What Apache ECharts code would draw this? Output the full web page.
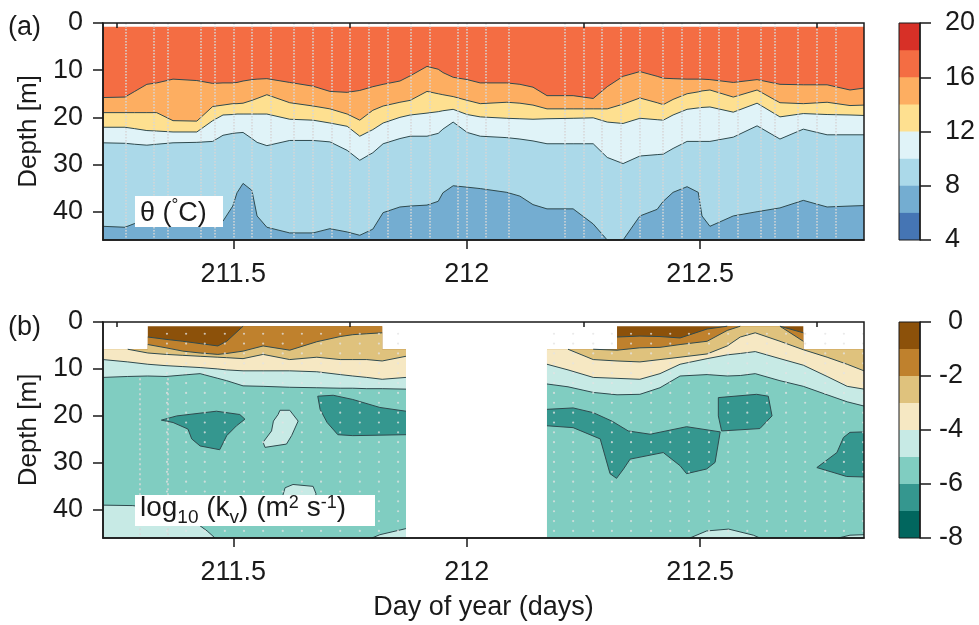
<!DOCTYPE html>
<html>
<head>
<meta charset="utf-8">
<script src="https://cdn.jsdelivr.net/npm/echarts@6/dist/echarts.min.js"></script>
<style>
html, body { margin: 0; padding: 0; background: #fff; }
#chart { width: 979px; height: 625px; }
</style>
</head>
<body>
<div id="chart"></div>
<script>
// ---- shared axis values
const dayMin = 211.221;
const dayMax = 212.851;
const dayLabels = [211.5, 212, 212.5];
const dayMinorTicks = [211.25, 211.75, 212.25, 212.75];
const depthTicks = [0, 10, 20, 30, 40];

// ---- panel (a): potential temperature, depth of each isotherm
const thetaTime = [211.221, 211.268, 211.289, 211.315, 211.336, 211.371, 211.422, 211.456, 211.478, 211.499,
    211.508, 211.521, 211.540, 211.551, 211.572, 211.621, 211.671, 211.707, 211.744, 211.771,
    211.799, 211.821, 211.857, 211.879, 211.915, 211.939, 211.949, 211.971, 212.001, 212.029,
    212.086, 212.114, 212.142, 212.172, 212.228, 212.271, 212.301, 212.335, 212.371, 212.408,
    212.421, 212.442, 212.472, 212.496, 212.504, 212.521, 212.571, 212.622, 212.671, 212.721,
    212.772, 212.821, 212.851];
const iso16 = [15.8, 15.7, 14.5, 13.0, 12.7, 11.9, 12.2, 12.8, 12.7, 12.7,
    12.6, 12.3, 12.0, 11.9, 11.8, 12.6, 13.4, 14.5, 14.7, 14.3,
    13.5, 13.0, 12.3, 11.2, 9.2, 9.8, 10.5, 11.5, 12.0, 12.7,
    12.7, 13.0, 13.6, 15.4, 15.4, 16.0, 13.5, 11.3, 10.3, 11.3,
    11.7, 11.8, 11.9, 11.9, 11.9, 12.0, 12.6, 12.0, 13.0, 13.1,
    13.1, 14.2, 13.8];
const iso14 = [19.0, 19.0, 19.0, 19.0, 19.0, 20.7, 20.8, 17.7, 17.4, 17.1,
    17.1, 17.0, 16.4, 16.0, 15.2, 16.9, 17.6, 18.2, 19.3, 20.6,
    18.5, 17.6, 16.8, 16.4, 14.5, 15.0, 15.2, 15.6, 16.4, 17.1,
    16.8, 17.0, 17.4, 18.2, 18.2, 18.2, 18.2, 17.2, 15.9, 16.9,
    17.3, 16.2, 15.0, 14.6, 14.4, 14.2, 15.7, 14.2, 16.9, 17.1,
    16.8, 17.5, 17.4];
const iso12 = [22.1, 22.1, 22.4, 22.8, 22.9, 23.1, 23.1, 20.7, 19.5, 19.4,
    19.3, 19.3, 19.3, 19.3, 19.3, 20.4, 20.6, 21.2, 21.9, 24.0,
    22.6, 21.2, 20.0, 19.5, 19.1, 18.8, 18.6, 18.3, 19.4, 19.9,
    20.2, 20.3, 20.4, 20.3, 20.2, 20.1, 21.0, 21.3, 20.2, 20.5,
    20.6, 19.5, 18.3, 18.0, 17.9, 17.8, 18.9, 17.0, 19.9, 19.2,
    19.4, 19.5, 19.6];
const iso10 = [25.4, 25.5, 25.7, 25.9, 25.7, 25.4, 25.3, 25.1, 23.8, 23.4,
    23.3, 23.2, 24.5, 25.3, 26.0, 24.9, 24.9, 25.2, 27.0, 29.1,
    27.5, 25.6, 24.5, 24.0, 24.0, 23.4, 22.5, 21.0, 23.2, 24.0,
    24.3, 24.6, 25.0, 25.6, 25.6, 25.6, 28.5, 29.8, 28.2, 27.9,
    27.8, 26.6, 25.1, 25.1, 25.1, 25.1, 24.2, 21.8, 24.6, 22.5,
    23.7, 23.7, 23.7];
const iso8 = [43.1, 43.3, 42.5, 42.3, 42.3, 42.3, 42.2, 42.1, 42.0, 38.8,
    36.0, 34.0, 35.5, 40.9, 43.3, 44.5, 44.5, 43.6, 44.3, 45.0,
    43.7, 40.2, 39.0, 38.8, 38.6, 37.8, 36.0, 34.5, 34.8, 35.1,
    35.9, 36.7, 38.5, 39.4, 39.4, 42.6, 46.0, 46.0, 40.9, 39.5,
    37.8, 35.9, 34.7, 35.9, 40.9, 43.1, 40.9, 40.0, 39.2, 37.6,
    39.0, 38.8, 38.7];
const thetaTop = 0.8;
const thetaLevels = [4, 6, 8, 10, 12, 14, 16, 18, 20];
const thetaColors = ['#4575b4', '#74add1', '#abd9e9', '#e0f3f8', '#fee090', '#fdae61', '#f46d43', '#d73027'];
const profileTimes = [211.268, 211.334, 211.356, 211.426, 211.459, 211.500, 211.543, 211.584, 211.626, 211.671,
    211.712, 211.752, 211.791, 211.834, 211.876, 211.916, 211.977, 212.000, 212.044, 212.086,
    212.207, 212.250, 212.294, 212.332, 212.373, 212.420, 212.459, 212.500, 212.541, 212.582,
    212.625, 212.664, 212.707, 212.751, 212.789];

// ---- panel (b): log10 diffusivity, depth of each contour (null = no data)
const kvTime = [211.221, 211.274, 211.317, 211.317, 211.356, 211.392, 211.429, 211.467, 211.486, 211.521,
    211.564, 211.621, 211.679, 211.729, 211.756, 211.786, 211.819, 211.819, 211.870, 212.0,
    212.172, 212.217, 212.271, 212.322, 212.322, 212.371, 212.414, 212.457, 212.515, 212.558,
    212.586, 212.618, 212.671, 212.721, 212.721, 212.772, 212.815, 212.851];
const kvTop = [5.8, 5.8, 5.8, 0.9, 0.9, 0.9, 0.9, 0.9, 0.9, 0.9,
    0.9, 0.9, 0.9, 0.9, 0.9, 0.9, 0.9, 5.8, 5.8, null,
    5.8, 5.8, 5.8, 5.8, 0.9, 0.9, 0.9, 0.9, 0.9, 0.9,
    0.9, 0.9, 0.9, 0.9, 5.8, 5.8, 5.8, 5.8];
const kv1 = [5.8, 5.8, 5.8, 3.2, 3.7, 4.1, 4.6, 5.1, 4.1, 0.9,
    0.9, 0.9, 0.9, 0.9, 0.9, 0.9, 0.9, 5.8, 5.8, null,
    5.8, 5.8, 5.8, 5.8, 3.2, 3.0, 3.1, 3.4, 1.5, 0.9,
    0.9, 0.9, 0.9, 2.3, 5.8, 5.8, 5.8, 5.8];
const kv2 = [5.8, 5.8, 5.8, 4.8, 5.5, 6.2, 6.6, 6.9, 6.7, 6.2,
    5.1, 6.0, 4.2, 3.1, 2.7, 2.5, 2.3, 5.8, 5.8, null,
    5.8, 5.8, 5.8, 6.0, 6.0, 5.5, 5.4, 4.8, 4.1, 1.8,
    0.9, 0.9, 0.9, 4.1, 5.8, 5.8, 5.8, 5.8];
const kv3 = [5.8, 5.8, 6.6, 6.6, 6.9, 7.1, 7.3, 7.5, 7.6, 7.8,
    6.9, 8.0, 7.5, 8.0, 8.0, 8.0, 8.3, 8.3, 7.3, null,
    5.8, 5.8, 8.0, 8.3, 8.3, 8.5, 8.0, 7.5, 6.8, 5.1,
    3.2, 2.3, 4.1, 5.9, 5.9, 7.5, 9.0, 10.4];
const kv4 = [8.0, 8.5, 9.0, 9.0, 9.3, 9.5, 9.7, 10.0, 10.2, 10.4,
    10.4, 10.4, 10.6, 11.2, 11.5, 11.8, 12.2, 12.2, 11.8, null,
    9.0, 10.2, 11.8, 12.0, 12.0, 12.2, 11.0, 9.0, 7.8, 7.0,
    6.7, 6.3, 7.8, 9.2, 9.2, 11.6, 13.7, 14.3];
const kv5 = [11.8, 11.6, 11.5, 11.5, 11.6, 11.3, 11.0, 12.0, 12.5, 13.6,
    13.7, 13.9, 14.0, 14.1, 14.1, 14.2, 14.2, 14.2, 14.3, null,
    13.2, 13.8, 15.0, 15.5, 15.5, 15.4, 14.0, 11.5, 11.2, 11.5,
    11.4, 11.0, 12.5, 13.7, 13.7, 15.5, 17.0, 17.9];
const kvEdges = [211.221, 211.870, 212.172, 212.851];
// closed patches below -6 (darker) and above -5 (lighter) inside the -5..-6 band
const kvLow = [
    [[211.346, 20.9], [211.379, 20.0], [211.464, 19.0], [211.514, 19.7], [211.525, 20.7], [211.507, 22.1],
     [211.486, 24.2], [211.471, 27.2], [211.429, 26.4], [211.411, 24.9], [211.403, 22.8], [211.371, 21.4]],
    [[211.681, 15.8], [211.714, 15.6], [211.756, 16.5], [211.814, 18.2], [211.870, 19.0], [211.870, 24.0],
     [211.756, 24.2], [211.724, 24.0], [211.701, 21.4], [211.686, 18.6]],
    [[212.172, 18.6], [212.228, 18.3], [212.271, 19.3], [212.311, 21.1], [212.346, 23.2], [212.393, 23.9],
     [212.471, 22.3], [212.543, 23.4], [212.532, 29.9], [212.514, 31.3], [212.471, 32.3], [212.457, 30.6],
     [212.421, 27.8], [212.350, 29.2], [212.336, 31.3], [212.321, 33.3], [212.307, 32.3], [212.286, 24.9],
     [212.228, 22.5], [212.172, 22.1]],
    [[212.539, 16.1], [212.621, 15.4], [212.646, 15.8], [212.654, 20.0], [212.628, 22.7], [212.546, 23.2],
     [212.539, 20.0]],
    [[212.851, 23.4], [212.821, 23.5], [212.807, 24.6], [212.793, 27.8], [212.750, 31.0], [212.814, 32.9],
     [212.851, 33.0]]
];
const kvHigh = [
    [[211.600, 18.8], [211.621, 18.8], [211.639, 21.1], [211.625, 24.2], [211.614, 26.0], [211.568, 26.7],
     [211.564, 25.6], [211.582, 23.2], [211.586, 21.1], [211.596, 19.7]],
    [[211.606, 37.0], [211.611, 35.3], [211.628, 34.6], [211.671, 35.0], [211.677, 36.5], [211.677, 37.0]],
    [[211.221, 39.0], [211.285, 39.1], [211.343, 40.0], [211.396, 41.5], [211.422, 42.9], [211.444, 44.5],
     [211.461, 46], [211.221, 46]],
    [[211.797, 46], [211.814, 45.3], [211.870, 44.0], [211.870, 46]],
    [[212.478, 46], [212.514, 44.5], [212.561, 44.1], [212.614, 45.4], [212.628, 46]],
    [[212.796, 46], [212.821, 45.4], [212.851, 45.3], [212.851, 46]]
];
const kvLevels = [-8, -7, -6, -5, -4, -3, -2, -1, 0];
const kvColors = ['#01665e', '#35978f', '#80cdc1', '#c7eae5', '#f6e8c3', '#dfc27d', '#bf812d', '#8c510a'];
// sample grid of the diffusivity estimate
const kvDotTimes = [211.358, 211.399, 211.439, 211.482, 211.523, 211.564, 211.606, 211.647, 211.688, 211.729,
    211.771, 211.812, 211.853,
    212.187, 212.228, 212.271, 212.311, 212.352, 212.395, 212.436, 212.476, 212.519, 212.560,
    212.601, 212.643, 212.684, 212.725, 212.768, 212.808, 212.849];
const kvDotDepths = [2.5, 4.6, 6.7, 8.8, 10.9, 13.0, 15.1, 17.2, 19.3, 21.4, 23.5, 25.6, 27.7, 29.8, 31.9,
    34.0, 36.1, 38.2, 40.3, 42.4, 44.5];
const kvTraceTimes = [211.300, 211.360];

const FONT = '"Liberation Sans", Arial, Helvetica, sans-serif';
const INK = '#1a1a1a';
const CONTOUR = '#2f4a4e';
const FS = 27;

function bandColor(levels, colors, lower) {
    return colors[levels.indexOf(lower)];
}

function areaSeries(xi, yi, time, vals, color, stroke) {
    return {
        type: 'line', xAxisIndex: xi, yAxisIndex: yi, z: 1,
        data: time.map((t, i) => [t, vals[i]]),
        symbol: 'none', silent: true, connectNulls: false,
        lineStyle: stroke ? { color: CONTOUR, width: 1 } : { width: 0 },
        areaStyle: { color: color, opacity: 1, origin: 'end' }
    };
}

// contour line only where it lies below the top of the data
function strokeSeries(xi, yi, time, vals, top) {
    const below = j => j >= 0 && j < vals.length && vals[j] != null && vals[j] > top[j] + 0.01;
    const data = vals.map((d, i) => {
        if (d == null) return [time[i], null];
        const near = [i - 1, i + 1].some(j => below(j) && time[j] !== time[i]);
        return (below(i) || near) ? [time[i], d] : [time[i], null];
    });
    return {
        type: 'line', xAxisIndex: xi, yAxisIndex: yi, z: 3,
        data: data, symbol: 'none', silent: true, connectNulls: false,
        lineStyle: { color: CONTOUR, width: 1 }
    };
}

function patchSeries(patches, color) {
    return {
        type: 'custom', xAxisIndex: 2, yAxisIndex: 1, z: 2, silent: true,
        data: patches.map(p => p[0]),
        renderItem: function (params, api) {
            const raw = patches[params.dataIndex];
            const pts = raw.map(p => api.coord(p));
            const children = [{ type: 'polygon', shape: { points: pts }, style: { fill: color } }];
            let run = [];
            const flush = () => {
                if (run.length > 1) {
                    children.push({ type: 'polyline', shape: { points: run },
                        style: { stroke: CONTOUR, lineWidth: 1, fill: null } });
                }
                run = [];
            };
            for (let k = 0; k < raw.length; k++) {
                const a = raw[k], b = raw[(k + 1) % raw.length];
                const edge = (a[0] === b[0] && kvEdges.includes(a[0])) || (a[1] >= 46 && b[1] >= 46);
                if (edge) { flush(); continue; }
                if (!run.length) run.push(pts[k]);
                run.push(pts[(k + 1) % raw.length]);
            }
            flush();
            return { type: 'group', children: children };
        }
    };
}

function dayAxes(grid, name) {
    return [{
        type: 'value', gridIndex: grid, min: dayMin, max: dayMax, position: 'bottom', z: 10,
        axisLine: { onZero: false, lineStyle: { color: INK, width: 1.5 } },
        axisTick: { customValues: dayLabels, length: 9, lineStyle: { color: INK, width: 1.5 } },
        axisLabel: { customValues: dayLabels, fontSize: FS, fontFamily: FONT, color: INK, margin: 21 },
        splitLine: { show: false },
        name: name, nameLocation: 'middle', nameGap: 56,
        nameTextStyle: { fontSize: FS, fontFamily: FONT, color: INK }
    }, {
        type: 'value', gridIndex: grid, min: dayMin, max: dayMax, position: 'bottom', z: 10,
        axisLine: { show: false },
        axisTick: { customValues: dayMinorTicks, length: 5, lineStyle: { color: INK, width: 1.5 } },
        axisLabel: { show: false },
        splitLine: { show: false }
    }];
}

function depthAxis(grid) {
    return {
        type: 'value', gridIndex: grid, inverse: true, min: 0, max: 46, z: 10,
        axisLine: { onZero: false, lineStyle: { color: INK, width: 1.5 } },
        axisTick: { customValues: depthTicks, length: 10, lineStyle: { color: INK, width: 1.5 } },
        axisLabel: { customValues: depthTicks, fontSize: FS, fontFamily: FONT, color: INK, margin: 20 },
        splitLine: { show: false },
        name: 'Depth [m]', nameLocation: 'middle', nameGap: 60, nameRotate: 90,
        nameTextStyle: { fontSize: 26, fontFamily: FONT, color: INK }
    };
}

function colorbarAxis(grid, levels, align, margin) {
    return {
        type: 'value', gridIndex: grid, min: levels[0], max: levels[levels.length - 1],
        interval: 2 * (levels[1] - levels[0]), position: 'right', z: 10,
        axisLine: { show: true, onZero: false, lineStyle: { color: INK, width: 1.5 } },
        axisTick: { show: true, length: 11, lineStyle: { color: INK, width: 1.5 } },
        axisLabel: { fontSize: FS, fontFamily: FONT, color: INK, margin: margin, align: align },
        splitLine: { show: false }
    };
}

const series = [];

// (a) filled isotherm bands
const thetaIsolines = [[16, iso16], [14, iso14], [12, iso12], [10, iso10], [8, iso8]];
series.push(areaSeries(0, 0, thetaTime, thetaTime.map(() => thetaTop),
    bandColor(thetaLevels, thetaColors, 16), false));
thetaIsolines.forEach(([lev, vals]) => {
    series.push(areaSeries(0, 0, thetaTime, vals, bandColor(thetaLevels, thetaColors, lev - 2), true));
});
series[series.length - 1].markLine = {
    silent: true, symbol: ['none', 'none'], label: { show: false },
    lineStyle: { type: 'dotted', color: '#d6d6d6', width: 1.5 },
    data: profileTimes.map(t => ({ xAxis: t }))
};

// (b) filled diffusivity bands
const kvIsolines = [[-1, kv1], [-2, kv2], [-3, kv3], [-4, kv4], [-5, kv5]];
series.push(areaSeries(2, 1, kvTime, kvTop, bandColor(kvLevels, kvColors, -1), false));
kvIsolines.forEach(([lev, vals]) => {
    series.push(areaSeries(2, 1, kvTime, vals, bandColor(kvLevels, kvColors, lev - 1), false));
});
series.push(patchSeries(kvLow, bandColor(kvLevels, kvColors, -7)));
series.push(patchSeries(kvHigh, bandColor(kvLevels, kvColors, -5)));
kvIsolines.forEach(([lev, vals]) => {
    series.push(strokeSeries(2, 1, kvTime, vals, kvTop));
});
// sample points
const kvDots = [];
kvDotTimes.forEach(t => kvDotDepths.forEach(d => kvDots.push([t, d])));
series.push({
    type: 'scatter', xAxisIndex: 2, yAxisIndex: 1, z: 4, silent: true,
    symbol: 'circle', symbolSize: 2.2, data: kvDots,
    itemStyle: { color: 'rgba(228,228,228,0.95)' },
    markLine: {
        silent: true, symbol: ['none', 'none'], label: { show: false },
        lineStyle: { type: [2, 3], color: '#d8d8d8', width: 1.5 },
        data: kvTraceTimes.map(t => [{ coord: [t, 12] }, { coord: [t, 46] }])
    }
});

// colour bars
for (let i = thetaColors.length - 1; i >= 0; i--) {
    series.push({ type: 'bar', xAxisIndex: 4, yAxisIndex: 2, silent: true, barWidth: '100%', barGap: '-100%',
        data: [thetaLevels[i + 1]], itemStyle: { color: thetaColors[i] } });
}
for (let i = 0; i < kvColors.length; i++) {
    series.push({ type: 'bar', xAxisIndex: 5, yAxisIndex: 3, silent: true, barWidth: '100%', barGap: '-100%',
        data: [kvLevels[i]], itemStyle: { color: kvColors[i] } });
}

const gridFrame = { show: true, borderColor: INK, borderWidth: 1.5, z: 10 };

const chart = echarts.init(document.getElementById('chart'), null, { renderer: 'canvas' });
chart.setOption({
    animation: false,
    backgroundColor: '#fff',
    grid: [
        Object.assign({ left: 103, top: 23, width: 761, height: 217 }, gridFrame),
        Object.assign({ left: 103, top: 322, width: 761, height: 216 }, gridFrame),
        Object.assign({ left: 899, top: 23, width: 21, height: 217 }, gridFrame, { borderWidth: 1 }),
        Object.assign({ left: 899, top: 322, width: 21, height: 216 }, gridFrame, { borderWidth: 1 })
    ],
    xAxis: [
        ...dayAxes(0, ''),
        ...dayAxes(1, 'Day of year (days)'),
        { type: 'category', gridIndex: 2, data: ['θ'], show: false },
        { type: 'category', gridIndex: 3, data: ['kv'], show: false }
    ],
    yAxis: [
        depthAxis(0),
        depthAxis(1),
        colorbarAxis(2, thetaLevels, 'left', 25),
        colorbarAxis(3, kvLevels, 'right', 43)
    ],
    graphic: [
        { type: 'text', left: 8, top: 14, z: 100,
          style: { text: '(a)', fontSize: FS, fontFamily: FONT, fill: INK } },
        { type: 'text', left: 8, top: 314, z: 100,
          style: { text: '(b)', fontSize: FS, fontFamily: FONT, fill: INK } },
        { type: 'rect', z: 100, shape: { x: 135, y: 196, width: 88, height: 31 }, style: { fill: '#fff' } },
        { type: 'text', z: 101, x: 140, y: 197,
          style: { text: '{n|θ (}{p|°}{n|C)}', fill: INK,
                   rich: { n: { fontSize: FS, fontFamily: FONT, lineHeight: 30, verticalAlign: 'bottom', fill: INK },
                           p: { fontSize: 17, fontFamily: FONT, lineHeight: 18, verticalAlign: 'top', fill: INK } } } },
        { type: 'rect', z: 100, shape: { x: 135, y: 495, width: 240, height: 31 }, style: { fill: '#fff' } },
        { type: 'text', z: 101, x: 140, y: 494,
          style: { text: '{n|log}{s|10}{n| (k}{s|v}{n|) (m}{p|2}{n| s}{p|-1}{n|)}', fill: INK,
                   rich: { n: { fontSize: 28, fontFamily: FONT, lineHeight: 28, verticalAlign: 'top', fill: INK },
                           s: { fontSize: 19, fontFamily: FONT, lineHeight: 33, verticalAlign: 'bottom', fill: INK },
                           p: { fontSize: 18, fontFamily: FONT, lineHeight: 15, verticalAlign: 'top', fill: INK } } } }
    ],
    series: series
});
</script>
</body>
</html>
